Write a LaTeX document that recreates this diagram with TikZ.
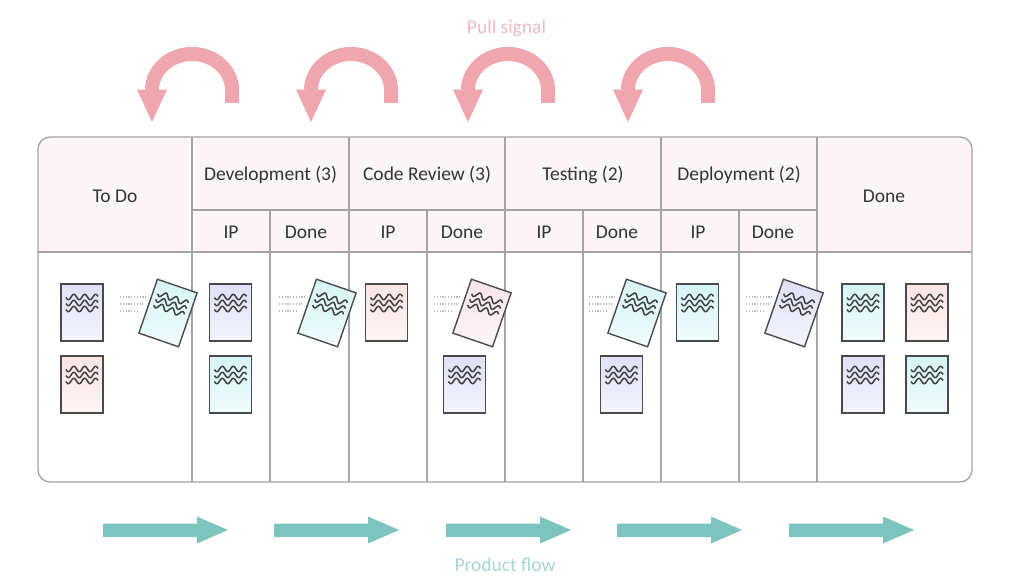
\documentclass[tikz,border=0pt]{standalone}
\usepackage{fontspec}
\setmainfont{Carlito}
\definecolor{boardline}{HTML}{A4A4A4}
\definecolor{headfill}{HTML}{FBF5F8}
\definecolor{txt}{HTML}{333333}
\definecolor{pullpink}{HTML}{F0A6AF}
\definecolor{pulltxt}{HTML}{F2B9C5}
\definecolor{flowteal}{HTML}{7DC3BE}
\definecolor{flowtxt}{HTML}{A5D6D2}
\definecolor{cardedge}{HTML}{4A4A4A}
\definecolor{lav}{HTML}{E0E0F8}
\definecolor{peach}{HTML}{FAE4E2}
\definecolor{aqua}{HTML}{D6F5F6}
\definecolor{rose}{HTML}{F8E4EB}
\begin{document}
\begin{tikzpicture}[x=1pt,y=1pt,
  head/.style={font=\fontsize{19.5}{22}\selectfont, text=txt, anchor=base, inner sep=0pt},
  board/.style={draw=boardline, line width=1.3pt},
  dots/.style={draw=gray!55, line width=1.2pt, dash pattern=on 1.2pt off 1.6pt},
  pics/card/.style={code={
    \shadedraw[top color=#1, bottom color=#1!35!white, draw=cardedge, line width=1.4pt] (-21,-28.5) rectangle (21,28.5);
    \foreach \dy in {15.5,9.5,3.5}
      \draw[cardedge!85!black, line width=1.5pt, line join=round] plot[domain=-16:16, samples=60] (\x,{\dy+2.7*sin(\x*33)});
  }},
  pics/pullarrow/.style={code={
    \draw[pullpink, line width=14pt] (40,-13) -- (40,0) arc[start angle=0, end angle=180, x radius=40, y radius=36];
    \fill[pullpink] (-55,0.3) -- (-25,0.3) -- (-40,-32) -- cycle;
  }}
]
\useasboundingbox (0,0) rectangle (1024,579);
\fill[white] (0,0) rectangle (1024,579);

% header background
\begin{scope}
  \clip[rounded corners=12pt] (38,97) rectangle (972,442);
  \fill[headfill] (38,327) rectangle (972,442);
\end{scope}

% board grid
\draw[board, rounded corners=12pt] (38,97) rectangle (972,442);
\draw[board] (38,327) -- (972,327);
\draw[board] (192,369) -- (817,369);
\foreach \xx in {192,349,505,661,817} \draw[board] (\xx,97) -- (\xx,442);
\foreach \xx in {270,427,583,739} \draw[board] (\xx,97) -- (\xx,369);

% header texts
\node[head] (todo) at (115,376) {To Do};
\node[head] (done) at (884,376) {Done};
\node[head] (dev) at (270.5,398) {Development (3)};
\node[head] (cr) at (427,398) {Code Review (3)};
\node[head] (test) at (583,398) {Testing (2)};
\node[head] (dep) at (739,398) {Deployment (2)};
\node[head] (devip) at (231,340) {IP};
\node[head] (devdone) at (306,340) {Done};
\node[head] (crip) at (388,340) {IP};
\node[head] (crdone) at (462,340) {Done};
\node[head] (testip) at (544,340) {IP};
\node[head] (testdone) at (617,340) {Done};
\node[head] (depip) at (698,340) {IP};
\node[head] (depdone) at (773,340) {Done};

% cards
\pic at (82,266.5) {card=lav};
\pic at (82,194.5) {card=peach};
\pic[rotate=-19] at (168,266) {card=aqua};
\pic at (230.5,266.5) {card=lav};
\pic at (230.5,194.5) {card=aqua};
\pic[rotate=-19] at (327,266) {card=aqua};
\pic at (386.5,266.5) {card=peach};
\pic[rotate=-19] at (482,266) {card=rose};
\pic at (464.5,194.5) {card=lav};
\pic[rotate=-19] at (637,266) {card=aqua};
\pic at (621.5,194.5) {card=lav};
\pic at (697.5,266.5) {card=aqua};
\pic[rotate=-19] at (794,266) {card=lav};
\pic at (863,266.5) {card=aqua};
\pic at (927,266.5) {card=peach};
\pic at (863,194.5) {card=lav};
\pic at (927,194.5) {card=aqua};

% motion dots
\foreach \c in {168,327,482,637,794} {
  \draw[dots] (\c-48,282) -- (\c-20,282);
  \draw[dots] (\c-48,275) -- (\c-25,275);
  \draw[dots] (\c-48,268) -- (\c-29,268);
}

% pull signal arrows
\foreach \c in {192,351,508,668} \pic at (\c,489) {pullarrow};
\node[font=\fontsize{19.5}{22}\selectfont, text=pulltxt, anchor=base] (pull) at (506.5,545) {Pull signal};

% product flow arrows
\foreach \s in {103,274,446,617,789}
  \fill[flowteal] (\s,42) -- (\s+94,42) -- (\s+94,35.5) -- (\s+125,49) -- (\s+94,62.5) -- (\s+94,55.5) -- (\s,55.5) -- cycle;
\node[font=\fontsize{19.5}{22}\selectfont, text=flowtxt, anchor=base] (flow) at (505,7.5) {Product flow};
\end{tikzpicture}
\end{document}
